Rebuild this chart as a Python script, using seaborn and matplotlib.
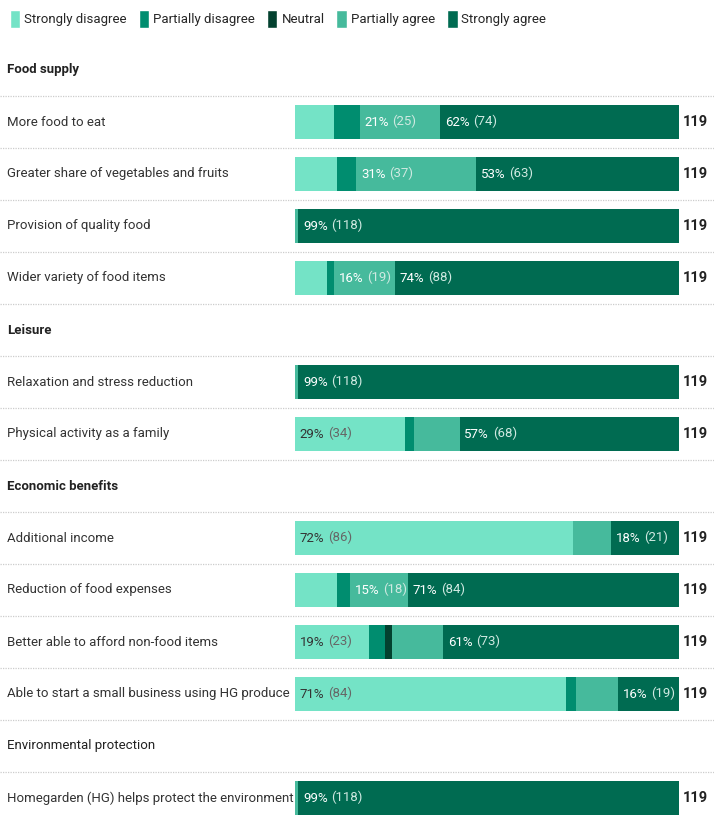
import matplotlib
matplotlib.use("Agg")
import matplotlib.pyplot as plt
import matplotlib.transforms as mtransforms
from matplotlib.patches import Patch
import numpy as np
import seaborn as sns

# data (counts out of 119 respondents)
groups = ["Food supply", "Leisure", "Economic benefits", "Environmental protection"]
group_bold = [True, True, True, False]
items = [
    "More food to eat",
    "Greater share of vegetables and fruits",
    "Provision of quality food",
    "Wider variety of food items",
    "Relaxation and stress reduction",
    "Physical activity as a family",
    "Additional income",
    "Reduction of food expenses",
    "Better able to afford non-food items",
    "Able to start a small business using HG produce",
    "Homegarden (HG) helps protect the environment",
]
item_group = [0, 0, 0, 0, 1, 1, 2, 2, 2, 2, 3]
levels = ["Strongly disagree", "Partially disagree", "Neutral", "Partially agree", "Strongly agree"]
colors = ["#74e3c6", "#008d6f", "#03412f", "#46ba9c", "#006b51"]

strongly_disagree = [12, 13, 0, 10, 0, 34, 86, 13, 23, 84, 0]
partially_disagree = [8, 6, 0, 2, 0, 3, 0, 4, 5, 3, 0]
neutral = [0, 0, 0, 0, 0, 0, 0, 0, 2, 0, 0]
partially_agree = [25, 37, 1, 19, 1, 14, 12, 18, 16, 13, 1]
strongly_agree = [74, 63, 118, 88, 118, 68, 21, 84, 73, 19, 118]

counts = np.array([strongly_disagree, partially_disagree, neutral,
                   partially_agree, strongly_agree]).T
totals = counts.sum(axis=1)
cum = counts.cumsum(axis=1)

sns.set_theme(style="white")
plt.rcParams["font.family"] = ["Roboto", "DejaVu Sans"]
FS = 9.5

# one line per group header / item
pos_header, pos_item = [], []
line = 0
for g in range(len(groups)):
    pos_header.append(line)
    line += 1
    for ig in item_group:
        if ig == g:
            pos_item.append(line)
            line += 1
n_lines = line

W, H = 714, 816
fig = plt.figure(figsize=(W / 100, H / 100), dpi=100)
ax = fig.add_axes([295 / W, 0, (679 - 295) / W, 1])

# stacked bars: draw cumulative totals from the back
for k in reversed(range(len(levels))):
    sns.barplot(x=cum[:, k], y=pos_item, orient="y", native_scale=True,
                width=0.64, color=colors[k], saturation=1, linewidth=0,
                errorbar=None, ax=ax)

ax.set_xlim(0, totals.max())
ax.set_ylim((H - 70) / 52, -70 / 52)
ax.axis("off")

trans = mtransforms.blended_transform_factory(fig.transFigure, ax.transData)

for i in range(n_lines - 1):
    ax.plot([0, 1], [i + 0.5, i + 0.5], transform=trans, clip_on=False,
            color="#cccccc", lw=0.9, ls=(0, (1, 1)))

for gi, p in enumerate(pos_header):
    ax.text(7 / W, p, groups[gi], transform=trans, va="center", ha="left",
            fontsize=FS, color="#222222",
            weight="bold" if group_bold[gi] else "normal")

for r, p in enumerate(pos_item):
    ax.text(7 / W, p, items[r], transform=trans, va="center", ha="left",
            fontsize=FS, color="#333333")
    ax.text(totals[r] + 1.3, p, str(totals[r]), va="center", ha="left",
            fontsize=10.5, weight="bold", color="#222222")
    for k in range(len(levels)):
        c = counts[r, k]
        pct = round(c / totals[r] * 100)
        if pct < 15:
            continue
        x0 = cum[r, k] - c
        dark = k == 0
        t = ax.text(x0 + 1.5, p, f"{pct}%", va="center", ha="left", fontsize=FS,
                    color="#333333" if dark else "white")
        ax.annotate(f"({c})", xy=(1, 0), xycoords=t, xytext=(2.5, 0),
                    textcoords="offset points", va="bottom", ha="left",
                    fontsize=FS, color="#666666" if dark else "#cfe9e1")

handles = [Patch(facecolor=c, label=l) for c, l in zip(colors, levels)]
fig.legend(handles=handles, loc="upper left", bbox_to_anchor=(0.0, 1.0),
           ncol=5, frameon=False, fontsize=FS, handlelength=0.8,
           handleheight=1.7, handletextpad=0.3, columnspacing=0.9,
           borderaxespad=0.35)

fig.savefig("out.png", dpi=100)
